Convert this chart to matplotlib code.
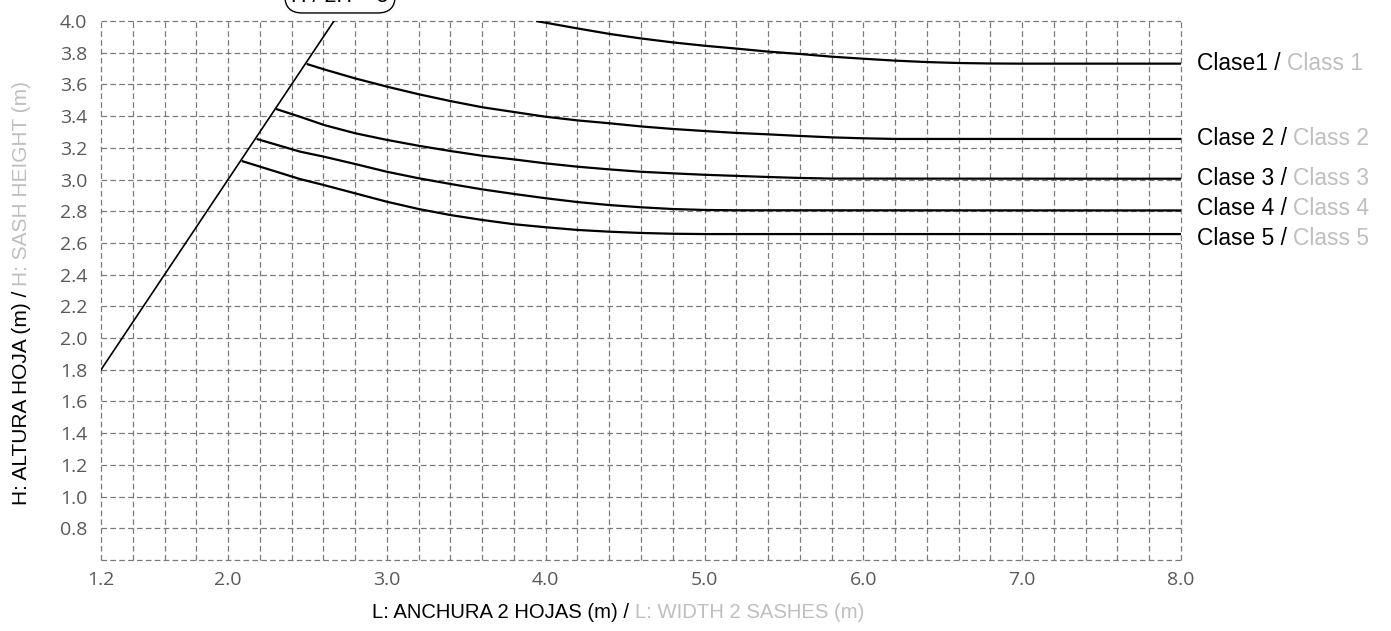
import matplotlib
matplotlib.use("Agg")
import matplotlib.pyplot as plt
import numpy as np

# ---- data -------------------------------------------------------------
# Limit line H / (L/2) = 3  (sash height vs. width of two sashes)
diag_L = [1.2, 2.6667]
diag_H = [1.8, 4.0]

# Wind-load class curves: width L (m) -> max sash height H (m)
class1_L = [3.94, 4.195, 4.405, 4.6, 4.8, 5.0, 5.2, 5.4, 5.6, 5.8, 6.0, 6.2, 6.4, 6.6, 6.8, 7.0, 8.0]
class1_H = [4.0, 3.954, 3.918, 3.89, 3.865, 3.844, 3.826, 3.807, 3.792, 3.775, 3.762, 3.75, 3.741, 3.735, 3.732, 3.731, 3.731]

class2_L = [2.495, 2.604, 2.8, 3.0, 3.2, 3.4, 3.6, 3.8, 4.0, 4.2, 4.4, 4.6, 4.8, 5.0, 5.2, 5.4, 5.6, 5.8, 6.0, 6.2, 8.0]
class2_H = [3.729, 3.695, 3.638, 3.586, 3.538, 3.495, 3.456, 3.426, 3.396, 3.373, 3.355, 3.335, 3.319, 3.306, 3.294,
            3.285, 3.275, 3.266, 3.26, 3.256, 3.256]

class3_L = [2.302, 2.453, 2.604, 2.8, 3.0, 3.2, 3.4, 3.6, 3.8, 4.0, 4.2, 4.4, 4.6, 4.8, 5.0, 5.2, 5.4, 5.6, 5.8, 8.0]
class3_H = [3.445, 3.396, 3.344, 3.292, 3.25, 3.213, 3.18, 3.15, 3.127, 3.102, 3.081, 3.064, 3.049, 3.039, 3.03,
            3.023, 3.016, 3.01, 3.006, 3.005]

class4_L = [2.18, 2.453, 2.604, 2.8, 3.0, 3.2, 3.4, 3.6, 3.8, 4.0, 4.2, 4.4, 4.6, 4.8, 5.0, 5.2, 8.0]
class4_H = [3.256, 3.176, 3.144, 3.098, 3.049, 3.008, 2.972, 2.938, 2.909, 2.882, 2.858, 2.839, 2.825, 2.814, 2.808,
            2.806, 2.805]

class5_L = [2.086, 2.453, 2.604, 2.8, 3.0, 3.2, 3.4, 3.6, 3.8, 4.0, 4.2, 4.4, 4.6, 4.8, 5.0, 8.0]
class5_H = [3.117, 3.003, 2.965, 2.913, 2.86, 2.814, 2.776, 2.745, 2.718, 2.699, 2.682, 2.671, 2.663, 2.658, 2.656, 2.656]

class_es = ["Clase1 /", "Clase 2 /", "Clase 3 /", "Clase 4 /", "Clase 5 /"]
class_en = ["Class 1", "Class 2", "Class 3", "Class 4", "Class 5"]
class_label_y = [3.73, 3.256, 3.005, 2.815, 2.625]

x_tick_labels = [1.2, 2.0, 3.0, 4.0, 5.0, 6.0, 7.0, 8.0]
y_tick_labels = [0.8, 1.0, 1.2, 1.4, 1.6, 1.8, 2.0, 2.2, 2.4, 2.6, 2.8, 3.0, 3.2, 3.4, 3.6, 3.8, 4.0]

ratio_label = "H / 2H = 3"

# ---- style ------------------------------------------------------------
W, H = 1391, 631
BLACK = "#000000"
GREY = "#bfbfbf"
TICK = "#595959"
LABEL_FONT = ["Liberation Sans", "DejaVu Sans"]
TICK_FONT = ["Open Sans", "DejaVu Sans"]

fig = plt.figure(figsize=(W / 100, H / 100), dpi=100)
ax = fig.add_axes([101 / W, 1 - 560 / H, 1080 / W, 539 / H])
ax.set_xlim(1.2, 8.0)
ax.set_ylim(0.6, 4.0)
for s in ax.spines.values():
    s.set_visible(False)

xgrid = np.round(np.arange(1.2, 8.0001, 0.2), 1)
ygrid = np.round(np.arange(0.6, 4.0001, 0.2), 1)
ax.set_xticks(xgrid)
ax.set_xticklabels(["%.1f" % v if any(abs(v - t) < 1e-6 for t in x_tick_labels) else "" for v in xgrid])
ax.set_yticks(ygrid)
ax.set_yticklabels(["%.1f" % v if any(abs(v - t) < 1e-6 for t in y_tick_labels) else "" for v in ygrid])
ax.tick_params(length=0, labelsize=14, labelcolor=TICK)
ax.tick_params(axis="x", pad=8)
ax.tick_params(axis="y", pad=10)
for lab in ax.get_xticklabels() + ax.get_yticklabels():
    lab.set_family(TICK_FONT)

ax.grid(True, color="#7a7a7a", linewidth=0.9, linestyle=(0, (4.5, 2.6)))
for gl in ax.get_xgridlines() + ax.get_ygridlines():
    gl.set_clip_on(False)
ax.set_axisbelow(True)

# ---- curves -----------------------------------------------------------
ax.plot(diag_L, diag_H, color=BLACK, linewidth=1.2, zorder=3)
for xs, ys in [(class1_L, class1_H), (class2_L, class2_H), (class3_L, class3_H),
               (class4_L, class4_H), (class5_L, class5_H)]:
    ax.plot(xs, ys, color=BLACK, linewidth=1.6, solid_capstyle="butt", zorder=3)

# class labels on the right: Spanish in black, English in grey
for es, en, yy in zip(class_es, class_en, class_label_y):
    t = ax.text(8.10, yy, es, color=BLACK, fontsize=16.4, family=LABEL_FONT,
                ha="left", va="center", clip_on=False)
    ax.annotate(en, xy=(1, 0), xycoords=t, xytext=(4.5, 0), textcoords="offset points",
                color=GREY, fontsize=16.4, family=LABEL_FONT, ha="left", va="bottom")

# ratio label above the limit line, in a rounded box
fig.text(340 / W, 1 + 4 / H, ratio_label, fontsize=15.5, family=LABEL_FONT, ha="center", va="center",
         bbox=dict(boxstyle="round,pad=0.3,rounding_size=0.8", facecolor="white", edgecolor=BLACK, linewidth=1.0))

# x axis title
tx = fig.text(372 / W, 1 - 613 / H, "L: ANCHURA 2 HOJAS (m) /", color=BLACK, fontsize=14.6,
              family=LABEL_FONT, ha="left", va="center")
ax.annotate("L: WIDTH 2 SASHES (m)", xy=(1, 0), xycoords=tx, xytext=(4, 0), textcoords="offset points",
            color=GREY, fontsize=14.6, family=LABEL_FONT, ha="left", va="bottom")

# y axis title (rotated), centred on the plotting area
ty = fig.text(22 / W, 1 - 510 / H, "H: ALTURA HOJA (m) /", color=BLACK, fontsize=15,
              family=LABEL_FONT, ha="center", va="bottom", rotation=90)
ty2 = ax.annotate("H: SASH HEIGHT (m)", xy=(0, 1), xycoords=ty, xytext=(0, 4), textcoords="offset points",
                  color=GREY, fontsize=15, family=LABEL_FONT, ha="left", va="bottom", rotation=90)
fig.canvas.draw()
r = fig.canvas.get_renderer()
b1 = ty.get_window_extent(r)
b2 = ty2.get_window_extent(r)
span_mid = (b1.y0 + b2.y1) / 2
target_mid = (1 - 293 / H) * H
x0, y0 = ty.get_position()
ty.set_position((x0, y0 + (target_mid - span_mid) / H))

fig.savefig("out.png", dpi=100)
